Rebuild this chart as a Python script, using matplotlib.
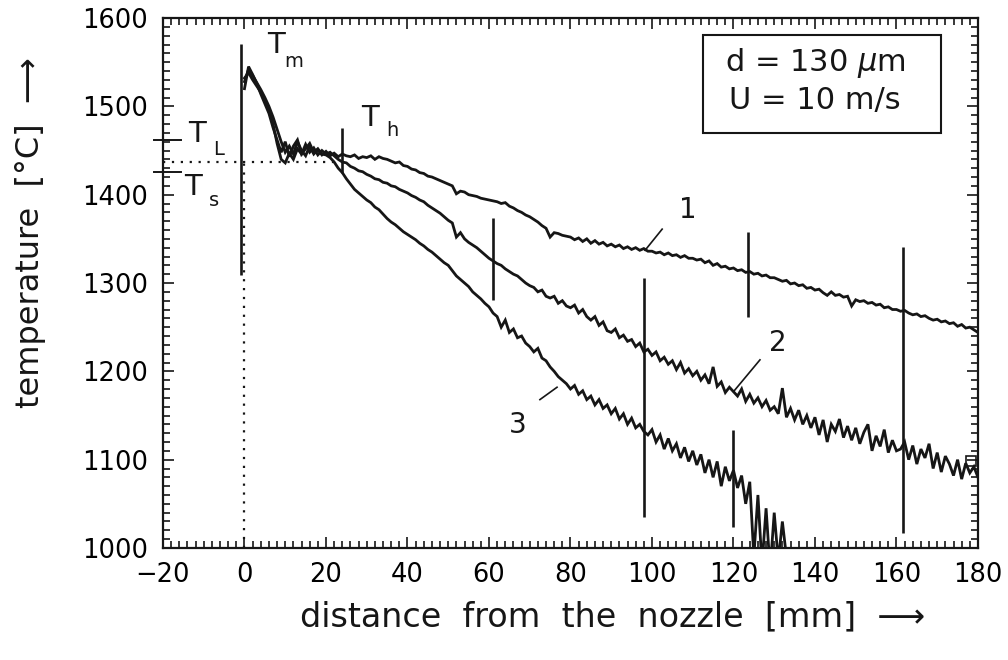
import numpy as np
import matplotlib.pyplot as plt
from matplotlib.ticker import MultipleLocator
from matplotlib.patches import Rectangle

plt.rcParams['font.family'] = ['DejaVu Sans']

# ---------------- data ----------------
x1 = list(range(0, 181))
curve1 = [1528, 1542, 1535, 1527, 1519, 1510, 1500, 1488, 1474, 1460,
          1448, 1455, 1446, 1460, 1450, 1444, 1455, 1446, 1451, 1445,
          1449, 1444, 1447, 1443, 1446, 1444, 1443, 1445, 1441, 1443,
          1442, 1444, 1440, 1443, 1441, 1440, 1438, 1436, 1437, 1433,
          1432, 1429, 1428, 1425, 1424, 1421, 1420, 1418, 1416, 1414,
          1412, 1410, 1401, 1404, 1403, 1400, 1399, 1398, 1396, 1395,
          1394, 1393, 1392, 1390, 1391, 1387, 1385, 1382, 1380, 1377,
          1375, 1372, 1369, 1365, 1362, 1352, 1357, 1356, 1354, 1353,
          1352, 1349, 1351, 1347, 1350, 1345, 1348, 1344, 1346, 1342,
          1344, 1341, 1343, 1339, 1341, 1338, 1340, 1337, 1339, 1336,
          1336, 1334, 1335, 1332, 1334, 1331, 1332, 1329, 1331, 1328,
          1328, 1326, 1327, 1323, 1325, 1320, 1322, 1318, 1319, 1316,
          1317, 1314, 1315, 1312, 1313, 1310, 1311, 1308, 1309, 1306,
          1306, 1304, 1302, 1303, 1299, 1300, 1297, 1298, 1294, 1295,
          1292, 1293, 1289, 1286, 1290, 1286, 1287, 1284, 1285, 1274,
          1281, 1279, 1280, 1277, 1278, 1275, 1276, 1272, 1273, 1270,
          1270, 1268, 1269, 1266, 1264, 1265, 1262, 1263, 1260, 1258,
          1259, 1256, 1257, 1254, 1255, 1251, 1253, 1249, 1250, 1247,
          1244]

x2 = list(range(0, 181))
curve2 = [1532, 1538, 1530, 1523, 1516, 1507, 1496, 1480, 1458, 1440,
          1436, 1447, 1440, 1452, 1446, 1457, 1448, 1453, 1445, 1450,
          1446, 1448, 1444, 1440, 1437, 1436, 1432, 1430, 1427, 1426,
          1423, 1421, 1418, 1417, 1414, 1413, 1410, 1409, 1406, 1404,
          1402, 1399, 1397, 1394, 1392, 1388, 1385, 1382, 1379, 1375,
          1371, 1368, 1352, 1357, 1350, 1346, 1343, 1340, 1336, 1332,
          1328, 1325, 1322, 1320, 1316, 1313, 1310, 1308, 1304, 1300,
          1297, 1295, 1290, 1292, 1285, 1283, 1285, 1277, 1280, 1274,
          1272, 1275, 1266, 1270, 1262, 1258, 1262, 1252, 1256, 1246,
          1244, 1248, 1238, 1241, 1234, 1236, 1228, 1232, 1222, 1225,
          1218, 1222, 1212, 1216, 1208, 1212, 1202, 1210, 1198, 1203,
          1195, 1200, 1190, 1196, 1186, 1205, 1183, 1188, 1176, 1182,
          1177, 1172, 1180, 1166, 1174, 1164, 1170, 1160, 1167, 1156,
          1160, 1152, 1181, 1148, 1158, 1145, 1156, 1140, 1150, 1136,
          1148, 1128, 1145, 1120, 1140, 1132, 1146, 1125, 1138, 1122,
          1136, 1118, 1131, 1140, 1110, 1127, 1115, 1134, 1108, 1122,
          1110, 1112, 1120, 1100, 1116, 1095, 1112, 1102, 1118, 1090,
          1108, 1086, 1104, 1095, 1082, 1100, 1078, 1096, 1085, 1092,
          1080]

x3 = list(range(0, 134))
curve3 = [1520, 1545, 1536, 1526, 1514, 1503, 1492, 1476, 1462, 1448,
          1460, 1443, 1455, 1462, 1446, 1452, 1458, 1448, 1452, 1446,
          1445, 1442, 1437, 1430, 1425, 1418, 1412, 1406, 1402, 1398,
          1394, 1391, 1386, 1383, 1378, 1373, 1369, 1366, 1362, 1358,
          1355, 1352, 1349, 1345, 1342, 1338, 1335, 1331, 1327, 1323,
          1320, 1314, 1308, 1304, 1300, 1296, 1290, 1286, 1282, 1277,
          1273, 1266, 1262, 1250, 1258, 1244, 1248, 1238, 1240, 1232,
          1228, 1222, 1226, 1215, 1212, 1205, 1200, 1194, 1190, 1186,
          1180, 1184, 1174, 1178, 1168, 1172, 1162, 1168, 1158, 1162,
          1152, 1158, 1146, 1152, 1140, 1147, 1136, 1140, 1132, 1128,
          1134, 1120, 1128, 1112, 1124, 1110, 1118, 1102, 1114, 1098,
          1110, 1094, 1106, 1085, 1100, 1080, 1098, 1070, 1092, 1076,
          1088, 1068, 1082, 1050, 1075, 990, 1060, 980, 1045, 975,
          1040, 985, 1030, 990]

# sharp signal spikes (position, upper end, lower end)
spike_x = [-0.8, 24, 61, 98, 120, 123.5, 161.5]
spike_top = [1571, 1476, 1374, 1306, 1134, 1358, 1341]
spike_bot = [1309, 1425, 1281, 1035, 1024, 1262, 1017]

T_liquidus = 1462
T_solidus = 1426
T_ref = 1437          # dotted reference level
x_ref_end = 22

curve_labels = ['1', '2', '3']
label_pos = [(108.8, 1383), (131.0, 1232), (67.0, 1139)]
leader_from = [(98.3, 1337), (120.0, 1177), (72.5, 1168)]
leader_to = [(102.5, 1361), (126.5, 1213), (76.7, 1182)]

xticks = [-20, 0, 20, 40, 60, 80, 100, 120, 140, 160, 180]
yticks = [1000, 1100, 1200, 1300, 1400, 1500, 1600]

# ---------------- figure ----------------
fig = plt.figure(figsize=(10.08, 6.6), dpi=100)
ax = fig.add_axes([0.1617, 0.1697, 0.8085, 0.803])

ink = '#161616'
lw = 2.0
for xs, ys in [(x1, curve1), (x2, curve2), (x3, curve3)]:
    ax.plot(xs, ys, color=ink, lw=lw, solid_joinstyle='miter')
ax.vlines(spike_x, spike_bot, spike_top, color=ink, lw=1.9)

# small open square near right edge
ax.plot([178.3], [1098], marker='s', ms=7, mfc='none', mec=ink, mew=1.2)

# dotted reference lines
ax.plot([-20, x_ref_end], [T_ref, T_ref], color=ink, lw=1.6,
        linestyle=(0, (1, 3)))
ax.plot([0, 0], [1000, T_ref], color=ink, lw=1.6, linestyle=(0, (1, 3)))

# T_L / T_s tick marks crossing the left spine
for T in (T_liquidus, T_solidus):
    ax.plot([-22.2, -15.5], [T, T], color=ink, lw=1.4, clip_on=False)

ax.set_xlim(-20, 180)
ax.set_ylim(1000, 1600)
ax.set_xticks(xticks)
ax.set_yticks(yticks)
ax.xaxis.set_minor_locator(MultipleLocator(2))
ax.yaxis.set_minor_locator(MultipleLocator(10))
ax.tick_params(which='both', direction='in', top=True, right=True,
               color=ink, width=1.2)
ax.tick_params(which='major', length=8, labelsize=18.5)
ax.tick_params(axis='x', which='major', pad=10)
ax.tick_params(axis='y', which='major', pad=11)
ax.tick_params(which='minor', length=5)
for s in ax.spines.values():
    s.set_linewidth(1.6)
    s.set_color(ink)

# annotations
def sym(x, y, main, sub, dx, dy, ms=21, ss=14):
    ax.text(x, y, main, fontsize=ms, ha='center', va='center', color=ink)
    ax.text(x + dx, y + dy, sub, fontsize=ss, ha='center', va='center',
            color=ink)

sym(7.8, 1569, 'T', 'm', 4.2, -18)
sym(30.8, 1487, 'T', 'h', 5.6, -14)
sym(-11.6, 1469, 'T', 'L', 5.2, -18)
sym(-12.6, 1409, 'T', 's', 5.2, -16)

for lab, (lx, ly), (fx, fy), (tx, ty) in zip(curve_labels, label_pos,
                                             leader_from, leader_to):
    ax.text(lx, ly, lab, fontsize=20, ha='center', va='center', color=ink)
    ax.plot([fx, tx], [fy, ty], color=ink, lw=1.2)

# parameter box
ax.add_patch(Rectangle((0.6626, 0.783), 0.292, 0.185, transform=ax.transAxes,
                       fc='white', ec=ink, lw=1.5, zorder=5))
ax.text(0.80, 0.9151, 'd = 130 $\\mu$m', transform=ax.transAxes,
        fontsize=22, ha='center', va='center', color=ink, zorder=6)
ax.text(0.80, 0.8453, 'U = 10 m/s', transform=ax.transAxes,
        fontsize=22, ha='center', va='center', color=ink, zorder=6)

fig.text(0.608, 0.065, 'distance  from  the  nozzle  [mm]  \u27f6',
         fontsize=24, ha='center', va='center', color=ink)
fig.text(0.030, 0.648, 'temperature  [\u00b0C]  \u27f6', rotation=90,
         fontsize=23, ha='center', va='center', color=ink)

fig.savefig('out.png', dpi=100)
